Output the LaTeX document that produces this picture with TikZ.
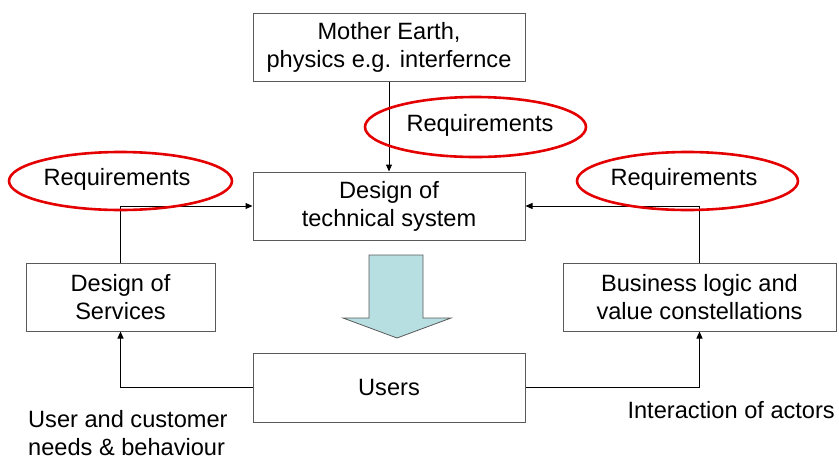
\documentclass[tikz,border=0pt]{standalone}
\usepackage{fontspec}
\setmainfont{Liberation Sans}
\usetikzlibrary{arrows.meta,shapes.geometric}
\definecolor{boxline}{RGB}{90,90,90}
\definecolor{reqred}{RGB}{228,0,0}
\definecolor{flowfill}{RGB}{183,222,225}
\begin{document}
\begin{tikzpicture}[x=1pt,y=-1pt,
  font=\fontsize{23.6}{28}\selectfont,
  box/.style={draw=boxline,line width=1pt,rectangle,align=center,inner sep=0pt},
  req/.style={draw=reqred,line width=2.6pt,ellipse,inner sep=0pt},
  link/.style={draw=black,line width=1pt,-{Triangle[length=7pt,width=6pt]}},
  caption/.style={inner sep=0pt,align=left}]
\useasboundingbox (0,0) rectangle (839,459);

% boxes
\node[box,minimum width=272pt,minimum height=68pt] (earth) at (389,47) {Mother Earth,\\physics e.g. interfernce};
\node[box,minimum width=272pt,minimum height=68pt] (tech) at (389,206) {Design of\\technical system};
\node[box,minimum width=272pt,minimum height=69pt] (users) at (389,387.5) {Users};
\node[box,minimum width=189pt,minimum height=68pt] (services) at (120.5,297) {Design of\\Services};
\node[box,minimum width=273pt,minimum height=68pt] (business) at (699.5,297) {Business logic and\\value constellations};

% connectors
\draw[link] (earth.south) -- (tech.north);
\draw[link] (services.north) |- (tech.west);
\draw[link] (business.north) |- (tech.east);
\draw[link] (users.west) -| (services.south);
\draw[link] (users.east) -| (business.south);

% flow arrow from design to users
\draw[boxline,line width=0.8pt,fill=flowfill]
  (369,255) -- (423,255) -- (423,318) -- (451,318) -- (397,338)
  -- (343,318) -- (369,318) -- cycle;

% requirement ellipses
\node[req,minimum width=221pt,minimum height=60pt] (reqmid) at (475.5,127) {};
\node[req,minimum width=223pt,minimum height=58pt] (reqleft) at (120.5,181) {};
\node[req,minimum width=221pt,minimum height=58pt] (reqright) at (687.5,181) {};
\node[inner sep=0pt] (reqmidtext) at (480,125) {Requirements};
\node[inner sep=0pt] (reqlefttext) at (117,179) {Requirements};
\node[inner sep=0pt] (reqrighttext) at (684,179) {Requirements};

% captions (base anchor sits on the last line)
\node[caption,anchor=base west] (needs) at (28,455) {User and customer\\needs \& behaviour};
\node[caption,anchor=base east] (actors) at (835,418) {Interaction of actors};
\end{tikzpicture}
\end{document}
